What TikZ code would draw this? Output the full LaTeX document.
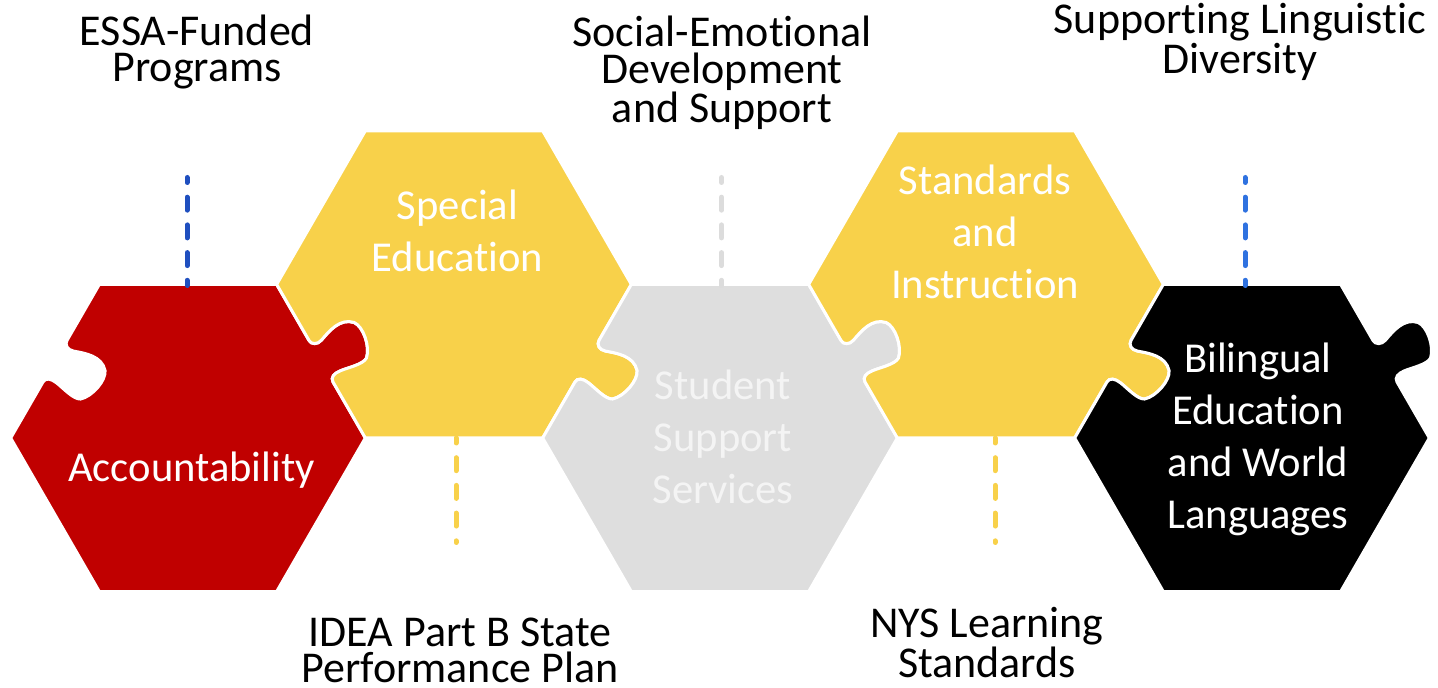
\documentclass[tikz,border=0pt]{standalone}
\usepackage{fontspec}
\setmainfont{Carlito}[Ligatures=NoCommon]
\definecolor{cred}{HTML}{C00000}
\definecolor{cyel}{HTML}{F8D14A}
\definecolor{cgry}{HTML}{DEDEDE}
\definecolor{cgtx}{HTML}{F4F4F4}
\definecolor{cdblue}{HTML}{1F4FBF}
\definecolor{clblue}{HTML}{2F72E0}
\definecolor{cdgray}{HTML}{DCDCDC}
\tikzset{
  piece/.style={draw=white, line width=1.5pt},
  notchpath/.style={insert path={-- ([nf]-24,0) .. controls ([nf]-19,0) and ([nf]-16,5) .. ([nf]-18,11) .. controls ([nf]-22,22) and ([nf]-28,38) .. ([nf]-17,48) .. controls ([nf]-9,54) and ([nf]12,50) .. ([nf]20,41) .. controls ([nf]24,35) and ([nf]19,20) .. ([nf]18,12) .. controls ([nf]17,5) and ([nf]19,0) .. ([nf]24,0)}},
  tabpath/.style={insert path={-- ([tf]-24,0) .. controls ([tf]-19,0) and ([tf]-17,-5) .. ([tf]-18,-12) .. controls ([tf]-19,-20) and ([tf]-24,-35) .. ([tf]-20,-41) .. controls ([tf]-12,-50) and ([tf]9,-54) .. ([tf]17,-48) .. controls ([tf]28,-38) and ([tf]22,-22) .. ([tf]18,-11) .. controls ([tf]16,-5) and ([tf]19,0) .. ([tf]24,0)}},
  intext/.style={font=\fontsize{21.3}{26}\selectfont, text=white, align=center, inner sep=0pt},
  outtext/.style={font=\fontsize{22}{18.25}\selectfont, text=black, align=center, inner sep=0pt},
  dashline/.style={line width=2.5pt, line cap=round, dash pattern=on 6.5pt off 7.35pt, dash phase=4pt},
}
\newcommand\lowpiece[3]{%
  \tikzset{tf/.style={shift={(#1+133,#2+76.78)},rotate=120},
           nf/.style={shift={(#1-133,#2+76.78)},rotate=240}}%
  \filldraw[piece, fill=#3] (#1+177.33,#2) [tabpath] -- (#1+88.67,#2+153.57)
    -- (#1-88.67,#2+153.57) [notchpath] -- (#1-177.33,#2)
    -- (#1-88.67,#2-153.57) -- (#1+88.67,#2-153.57) -- cycle;
}
\newcommand\highpiece[3]{%
  \tikzset{tf/.style={shift={(#1+133,#2-76.78)},rotate=60},
           nf/.style={shift={(#1-133,#2-76.78)},rotate=300}}%
  \filldraw[piece, fill=#3] (#1+177.33,#2) -- (#1+88.67,#2+153.57)
    -- (#1-88.67,#2+153.57) -- (#1-177.33,#2) [notchpath]
    -- (#1-88.67,#2-153.57) -- (#1+88.67,#2-153.57) [tabpath] -- cycle;
}
\begin{document}
\begin{tikzpicture}[x=0.5pt, y=0.5pt]
\useasboundingbox (0,0) rectangle (1438,688);
% puzzle pieces
\lowpiece{188}{250}{cred}
\highpiece{454}{403.6}{cyel}
\lowpiece{720}{250}{cgry}
\highpiece{986}{403.6}{cyel}
\lowpiece{1252}{250}{black}
% inner labels (anchor=base is the baseline of the last line)
\node[intext, anchor=base] (acc) at (191.5,206.3) {Accountability};
\node[intext, anchor=base] (sped) at (457.5,416.3) {Special\\Education};
\node[intext, anchor=base, text=cgtx] (sss) at (723,184.7) {Student\\Support\\Services};
\node[intext, anchor=base] (sai) at (985,389.7) {Standards\\and\\Instruction};
\node[intext, anchor=base] (bil) at (1258,159.7) {Bilingual\\Education\\and World\\Languages};
% outer labels
\node[outtext, anchor=base] (essa) at (197,606) {ESSA-Funded\\Programs};
\node[outtext, anchor=base] (sel) at (722,565) {Social-Emotional\\Development\\and Support};
\node[outtext, anchor=base] (sld) at (1240,614.7) {Supporting Linguistic\\Diversity};
\node[outtext, anchor=base] (idea) at (460,5) {IDEA Part B State\\Performance Plan};
\node[outtext, anchor=base] (nys) at (987,10) {NYS Learning\\Standards};
% dashed connectors
\coordinate (d1a) at (187,510.5); \coordinate (d1b) at (187,402.5);
\coordinate (d2a) at (456,250); \coordinate (d2b) at (456,145.5);
\coordinate (d3a) at (721.5,510.5); \coordinate (d3b) at (721.5,402.5);
\coordinate (d4a) at (995,250); \coordinate (d4b) at (995,145.5);
\coordinate (d5a) at (1245,510.5); \coordinate (d5b) at (1245,402.5);
\draw[dashline, cdblue] (d1a) -- (d1b);
\draw[dashline, cyel] (d2a) -- (d2b);
\draw[dashline, cdgray] (d3a) -- (d3b);
\draw[dashline, cyel] (d4a) -- (d4b);
\draw[dashline, clblue] (d5a) -- (d5b);
\end{tikzpicture}
\end{document}
